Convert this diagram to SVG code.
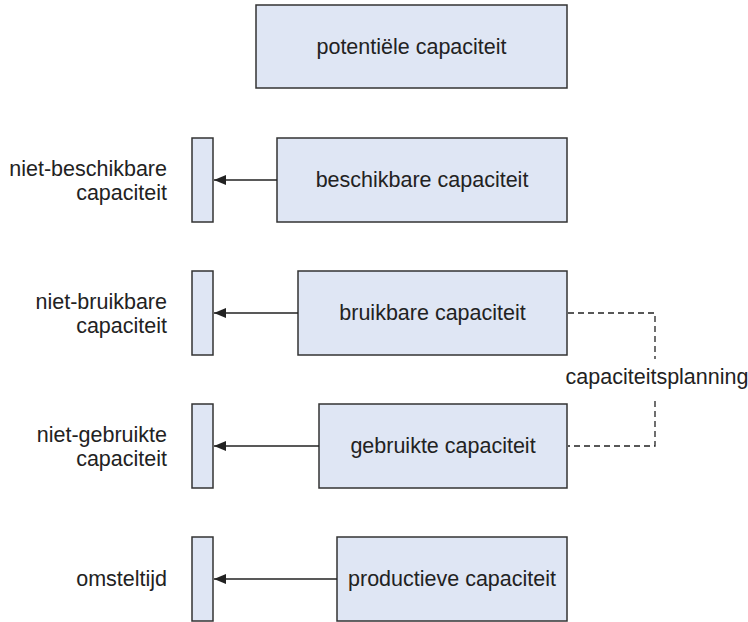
<svg xmlns="http://www.w3.org/2000/svg" width="748" height="622" viewBox="0 0 748 622">
<style>
.box{fill:#dfe6f4;stroke:#333;stroke-width:1.5}
.t{font-family:"Liberation Sans",Arial,sans-serif;font-size:21.5px;fill:#222}
.m{text-anchor:middle}
.e{text-anchor:end}
.c{stroke:#222;stroke-width:1.5;fill:none}
.d{stroke:#222;stroke-width:1.3;fill:none;stroke-dasharray:6 4}
</style>
<defs>
<marker id="ah" viewBox="0 0 12 10" refX="12" refY="5" markerWidth="12" markerHeight="10" markerUnits="userSpaceOnUse" orient="auto">
<path d="M0,0 L12,5 L0,10 Z" fill="#222"/>
</marker>
</defs>
<rect width="748" height="622" fill="#fff"/>
<g id="potentiele">
<rect class="box" x="256" y="5" width="311" height="83"/>
<text class="t m" x="411.5" y="54">potentiële capaciteit</text>
</g>
<g id="beschikbare">
<rect class="box" x="277" y="138" width="290" height="84"/>
<text class="t m" x="422" y="187">beschikbare capaciteit</text>
</g>
<g id="niet-beschikbare">
<rect class="box" x="192" y="138" width="21" height="84"/>
<text class="t e" x="167" y="176">niet-beschikbare</text>
<text class="t e" x="167" y="200">capaciteit</text>
</g>
<g id="bruikbare">
<rect class="box" x="298" y="271" width="269" height="84"/>
<text class="t m" x="432.5" y="320">bruikbare capaciteit</text>
</g>
<g id="niet-bruikbare">
<rect class="box" x="192" y="271" width="21" height="84"/>
<text class="t e" x="167" y="309">niet-bruikbare</text>
<text class="t e" x="167" y="333">capaciteit</text>
</g>
<g id="gebruikte">
<rect class="box" x="319" y="404" width="248" height="84"/>
<text class="t m" x="443" y="453">gebruikte capaciteit</text>
</g>
<g id="niet-gebruikte">
<rect class="box" x="192" y="404" width="21" height="84"/>
<text class="t e" x="167" y="442">niet-gebruikte</text>
<text class="t e" x="167" y="466">capaciteit</text>
</g>
<g id="productieve">
<rect class="box" x="337" y="537" width="230" height="84"/>
<text class="t m" x="452" y="586">productieve capaciteit</text>
</g>
<g id="omsteltijd">
<rect class="box" x="192" y="537" width="21" height="84"/>
<text class="t e" x="167" y="586">omsteltijd</text>
</g>
<g id="capaciteitsplanning">
<text class="t m" x="657" y="384">capaciteitsplanning</text>
</g>
<g id="connectors">
<line class="c" x1="277" y1="180" x2="214" y2="180" marker-end="url(#ah)"/>
<line class="c" x1="298" y1="313" x2="214" y2="313" marker-end="url(#ah)"/>
<line class="c" x1="319" y1="446" x2="214" y2="446" marker-end="url(#ah)"/>
<line class="c" x1="337" y1="579" x2="214" y2="579" marker-end="url(#ah)"/>
<path class="d" d="M568,313 H655 V359"/>
<path class="d" d="M655,401 V446 H568"/>
</g>
</svg>
